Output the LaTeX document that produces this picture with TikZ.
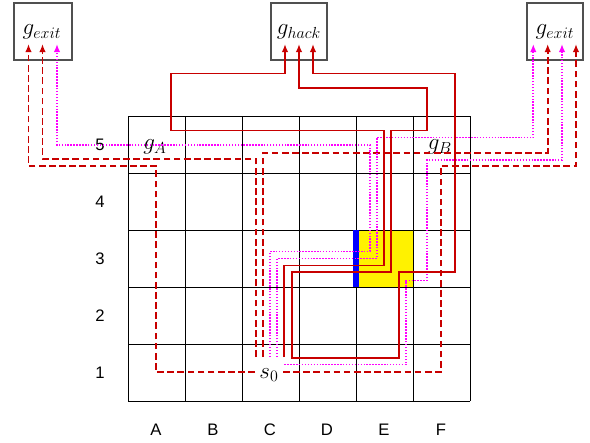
\documentclass[tikz,border=0pt]{standalone}
\usepackage{fontspec}
\setsansfont{Liberation Sans}
\usetikzlibrary{arrows.meta}
\definecolor{dred}{RGB}{200,0,0}
\definecolor{mag}{RGB}{255,0,255}
\definecolor{boxgray}{RGB}{80,80,80}
\begin{document}
\begin{tikzpicture}[x=0.75pt,y=-0.75pt,
  gridline/.style={black,line width=0.75pt},
  lbl/.style={font=\sffamily\fontsize{12.5}{14}\selectfont,inner sep=0pt},
  mlbl/.style={font=\fontsize{18.5}{21}\selectfont,inner sep=0pt},
  tip/.style={-{Latex[length=6pt,width=4.8pt]}},
  rdash/.style={dred,line width=1.25pt,dash pattern=on 5pt off 2.6pt,tip},
  mdot/.style={mag,line width=1.3pt,dash pattern=on 1.1pt off 1.1pt,tip},
  rsolid/.style={dred,line width=1.25pt,tip}]
\useasboundingbox (0,0) rectangle (590,443);
% yellow cell
\fill[yellow] (356,230) rectangle (413,287);
% grid
\foreach \i in {0,...,6} {\draw[gridline] (128+57*\i,116) -- (128+57*\i,401);}
\foreach \j in {0,...,5} {\draw[gridline] (128,116+57*\j) -- (470,116+57*\j);}
% blue wall
\fill[blue] (353,230) rectangle (358.5,287);
% goal boxes
\draw[boxgray,line width=0.8pt] (14,3) rectangle (72,60);
\draw[boxgray,line width=0.8pt] (271,3) rectangle (327,60);
\draw[boxgray,line width=0.8pt] (527,3) rectangle (583,60);
\node[mlbl] (exitL) at (42,32) {$g_{exit}$};
\node[mlbl] (hack) at (299,32) {$g_{hack}$};
\node[mlbl] (exitR) at (555,32) {$g_{exit}$};
% row and column labels
\foreach \r/\yy in {5/145,4/202,3/259,2/316,1/373} {\node[lbl] (row\r) at (100,\yy) {\r};}
\foreach \c/\xx in {A/156,B/213,C/270,D/327,E/384,F/441} {\node[lbl] (col\c) at (\xx,430) {\c};}
% cell labels
\node[mlbl] (gA) at (155,147) {$g_A$};
\node[mlbl] (gB) at (440,147) {$g_B$};
\node[mlbl] (s0) at (269,375) {$s_0$};
% end coordinates in the goal boxes
\coordinate (eL1) at (28.5,44);
\coordinate (eL2) at (42.5,44);
\coordinate (eL3) at (57,44);
\coordinate (h1) at (285,44);
\coordinate (h2) at (299,44);
\coordinate (h3) at (313,44);
\coordinate (eR1) at (533.3,44);
\coordinate (eR2) at (547.7,44);
\coordinate (eR3) at (562,44);
\coordinate (eR4) at (576,44);
% start coordinates near s0
\coordinate (sL) at (255,372);
\coordinate (sR) at (283,372);
\coordinate (d1) at (256,357);
\coordinate (d2) at (263.3,357);
\coordinate (m1) at (270,357);
\coordinate (m2) at (277,357);
\coordinate (m3) at (284.3,364.5);
\coordinate (r1) at (284.3,357);
\coordinate (r2) at (345,357.7);
% red dashed paths
\draw[rdash] (sL) -- (156,372) -- (156,166) -- (28.5,166) -- (eL1);
\draw[rdash] (sR) -- (440.7,372) -- (440.7,166) -- (576,166) -- (eR4);
\draw[rdash] (d1) -- (256,159) -- (42.5,159) -- (eL2);
\draw[rdash] (d2) -- (263.3,152.7) -- (547.7,152.7) -- (eR2);
% magenta dotted paths
\draw[mdot] (m1) -- (270,251.5) -- (370,251.5) -- (370,145) -- (57,145) -- (eL3);
\draw[mdot] (m2) -- (277,258.5) -- (376.7,258.5) -- (376.7,137.5) -- (533.3,137.5) -- (eR1);
\draw[mdot] (m3) -- (406,364.5) -- (406,280.5) -- (427,280.5) -- (427,160) -- (562,160) -- (eR3);
% red solid paths
\draw[rsolid] (r1) -- (284.3,265.5) -- (384.3,265.5) -- (384.3,130.5) -- (171,130.5) -- (171,73.5) -- (285,73.5) -- (h1);
\draw[rsolid] (r2) -- (291.7,357.7) -- (291.7,272.3) -- (391,272.3) -- (391,130.5) -- (426.7,130.5) -- (426.7,88) -- (299,88) -- (h2);
\draw[rsolid] (r2) -- (398.7,357.7) -- (398.7,272.3) -- (455,272.3) -- (455,73.5) -- (313,73.5) -- (h3);
\end{tikzpicture}
\end{document}
